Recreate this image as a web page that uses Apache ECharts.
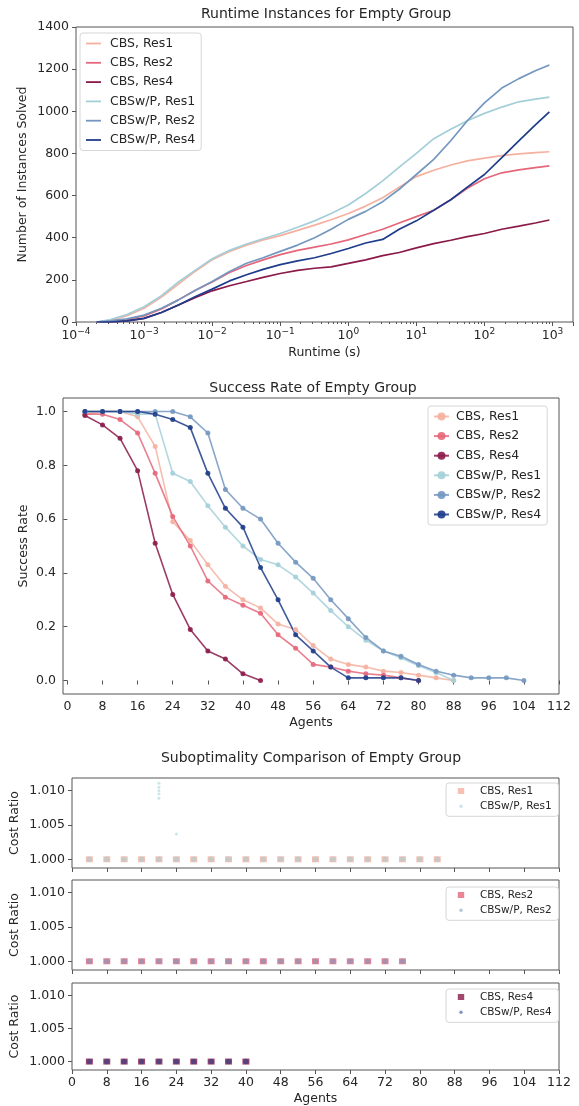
<!DOCTYPE html>
<html>
<head>
<meta charset="utf-8">
<script src="https://cdn.jsdelivr.net/npm/echarts@6/dist/echarts.min.js"></script>
<style>
html, body { margin: 0; padding: 0; background: #fff; }
#main { width: 579px; height: 1106px; }
</style>
</head>
<body>
<div id="main"></div>
<script>
var FONT = 'DejaVu Sans';
var INK = '#262626';
var FRAME = '#555555';

// the six methods, same order in every panel
var methodNames = ['CBS, Res1', 'CBS, Res2', 'CBS, Res4', 'CBSw/P, Res1', 'CBSw/P, Res2', 'CBSw/P, Res4'];
var methodColors = ['#f5b09f', '#e5677a', '#8b1a4a', '#a3cfd9', '#7497c0', '#1d3c8a'];

// ---- panel 1 : instances solved vs runtime ----
var runtimeSec = [2e-4, 3.2e-4, 5.6e-4, 1e-3, 1.8e-3, 3.2e-3, 5.6e-3, 1e-2, 1.8e-2, 3.2e-2, 5.6e-2, 0.1, 0.18, 0.32,
  0.56, 1, 1.8, 3.2, 5.6, 10, 18, 32, 56, 100, 180, 320, 560, 900];
var solvedCBS1 = [0, 8, 30, 65, 118, 180, 240, 295, 335, 365, 390, 410, 435, 460, 485, 515, 550, 590, 640, 690, 720, 745, 765, 778, 790, 798, 804, 808];
var solvedCBS2 = [0, 4, 12, 29, 62, 105, 150, 190, 235, 268, 295, 320, 340, 355, 370, 390, 415, 440, 470, 500, 530, 580, 635, 680, 708, 722, 733, 741];
var solvedCBS4 = [0, 0, 5, 17, 45, 81, 115, 148, 172, 192, 212, 230, 245, 255, 262, 278, 295, 315, 330, 352, 372, 388, 405, 420, 440, 455, 470, 484];
var solvedWP1 = [0, 12, 35, 72, 125, 190, 245, 300, 340, 370, 395, 420, 450, 480, 515, 555, 610, 670, 735, 800, 870, 915, 955, 990, 1020, 1045, 1058, 1067];
var solvedWP2 = [0, 5, 15, 33, 65, 105, 150, 192, 240, 279, 305, 335, 365, 400, 440, 487, 525, 571, 630, 700, 772, 860, 955, 1040, 1110, 1155, 1192, 1220];
var solvedWP4 = [0, 0, 5, 17, 45, 81, 120, 156, 195, 224, 250, 272, 290, 305, 325, 349, 375, 392, 440, 480, 530, 580, 640, 700, 780, 860, 935, 997];
var minorRuntimeTicks = [2e-4, 3e-4, 4e-4, 5e-4, 6e-4, 7e-4, 8e-4, 9e-4, 2e-3, 3e-3, 4e-3, 5e-3, 6e-3, 7e-3, 8e-3, 9e-3,
  0.02, 0.03, 0.04, 0.05, 0.06, 0.07, 0.08, 0.09, 0.2, 0.3, 0.4, 0.5, 0.6, 0.7, 0.8, 0.9,
  2, 3, 4, 5, 6, 7, 8, 9, 20, 30, 40, 50, 60, 70, 80, 90, 200, 300, 400, 500, 600, 700, 800, 900];

// ---- panel 2 : success rate vs agents ----
var agentCounts = [4, 8, 12, 16, 20, 24, 28, 32, 36, 40, 44, 48, 52, 56, 60, 64, 68, 72, 76, 80, 84, 88, 92, 96, 100, 104];
var rateCBS1 = [0.99, 1.0, 1.0, 0.98, 0.87, 0.59, 0.52, 0.43, 0.35, 0.30, 0.27, 0.21, 0.19, 0.13, 0.08, 0.06, 0.05, 0.035, 0.03, 0.02, 0.01, 0.0];
var rateCBS2 = [0.99, 0.99, 0.97, 0.92, 0.77, 0.61, 0.50, 0.37, 0.31, 0.28, 0.25, 0.17, 0.12, 0.06, 0.05, 0.035, 0.025, 0.02, 0.01, 0.0];
var rateCBS4 = [0.985, 0.95, 0.90, 0.78, 0.51, 0.32, 0.19, 0.11, 0.08, 0.025, 0.0];
var rateWP1 = [1.0, 1.0, 1.0, 0.99, 0.99, 0.77, 0.74, 0.65, 0.57, 0.50, 0.45, 0.43, 0.385, 0.325, 0.26, 0.20, 0.15, 0.11, 0.085, 0.055, 0.03, 0.0];
var rateWP2 = [1.0, 1.0, 1.0, 1.0, 1.0, 1.0, 0.98, 0.92, 0.71, 0.64, 0.60, 0.51, 0.44, 0.38, 0.30, 0.23, 0.16, 0.11, 0.09, 0.06, 0.035, 0.02, 0.01, 0.01, 0.01, 0.0];
var rateWP4 = [1.0, 1.0, 1.0, 1.0, 0.99, 0.97, 0.94, 0.77, 0.64, 0.57, 0.42, 0.30, 0.17, 0.11, 0.05, 0.01, 0.01, 0.01, 0.01, 0.0];
var agentTicks = [0, 8, 16, 24, 32, 40, 48, 56, 64, 72, 80, 88, 96, 104, 112];
var rateTicks = [0, 0.2, 0.4, 0.6, 0.8, 1.0];

// ---- panel 3 : cost ratio vs agents ----
var subAgentsRes1 = [4, 8, 12, 16, 20, 24, 28, 32, 36, 40, 44, 48, 52, 56, 60, 64, 68, 72, 76, 80, 84];
var ratioCBS1 = [1.000, 1.000, 1.000, 1.000, 1.000, 1.000, 1.000, 1.000, 1.000, 1.000, 1.000, 1.000, 1.000, 1.000, 1.000, 1.000, 1.000, 1.000, 1.000, 1.000, 1.000];
var ratioWP1 = [1.000, 1.000, 1.000, 1.000, 1.000, 1.000, 1.000, 1.000, 1.000, 1.000, 1.000, 1.000, 1.000, 1.000, 1.000, 1.000, 1.000, 1.000, 1.000, 1.000, 1.000];
var outlierAgentsWP1 = [20, 20, 20, 20, 20, 24];
var outlierRatioWP1 = [1.0089, 1.0095, 1.0100, 1.0105, 1.0111, 1.0037];
var subAgentsRes2 = [4, 8, 12, 16, 20, 24, 28, 32, 36, 40, 44, 48, 52, 56, 60, 64, 68, 72, 76];
var ratioCBS2 = [1.000, 1.000, 1.000, 1.000, 1.000, 1.000, 1.000, 1.000, 1.000, 1.000, 1.000, 1.000, 1.000, 1.000, 1.000, 1.000, 1.000, 1.000, 1.000];
var ratioWP2 = [1.000, 1.000, 1.000, 1.000, 1.000, 1.000, 1.000, 1.000, 1.000, 1.000, 1.000, 1.000, 1.000, 1.000, 1.000, 1.000, 1.000, 1.000, 1.000];
var subAgentsRes4 = [4, 8, 12, 16, 20, 24, 28, 32, 36, 40];
var ratioCBS4 = [1.000, 1.000, 1.000, 1.000, 1.000, 1.000, 1.000, 1.000, 1.000, 1.000];
var ratioWP4 = [1.000, 1.000, 1.000, 1.000, 1.000, 1.000, 1.000, 1.000, 1.000, 1.000];
var ratioTicks = [1.000, 1.005, 1.010];

function zip(xs, ys) {
  return ys.map(function (y, i) { return [xs[i], y]; });
}

function txt(size) {
  return { fontFamily: FONT, fontSize: size, color: INK };
}

// 10^n labels for the runtime axis
function powLabel(v) {
  var e = Math.log10(v);
  var n = Math.round(e);
  if (Math.abs(e - n) > 1e-6) return '';
  return '{b|10}{s|' + (n < 0 ? '\u2212' + (-n) : n) + '}';
}

var lineIcon = 'path://M0,0 M15,10 M0,4.1 L15,4.1 L15,5.9 L0,5.9 Z';
var squareIcon = 'path://M0,0 M10,10 M1.8,2 L8.2,2 L8.2,8 L1.8,8 Z';
var dotIcon = 'path://M0,0 M10,10 M3.3,5 A1.7,1.7 0 1,0 6.7,5 A1.7,1.7 0 1,0 3.3,5 Z';

var grids = [
  { left: 76, top: 27, width: 497, height: 295 },
  { left: 63, top: 398, width: 496, height: 296 },
  { left: 68, top: 778, width: 491, height: 90 },
  { left: 68, top: 880, width: 491, height: 90 },
  { left: 68, top: 983, width: 491, height: 89 }
].map(function (g) {
  g.show = true; g.borderColor = FRAME; g.borderWidth = 1; g.backgroundColor = 'transparent';
  return g;
});

var tickStyle = { show: true, length: 4, lineStyle: { color: FRAME, width: 1 } };

var xAxes = [
  {
    type: 'log', logBase: 10, gridIndex: 0, min: 1e-4, max: 2000, splitNumber: 7,
    axisLine: { show: false }, splitLine: { show: false }, axisTick: tickStyle,
    axisLabel: {
      margin: 5, formatter: powLabel, fontFamily: FONT, color: INK,
      rich: {
        b: { fontFamily: FONT, fontSize: 12.5, color: INK },
        s: { fontFamily: FONT, fontSize: 9, color: INK, padding: [0, 0, 8, 0] }
      }
    },
    name: 'Runtime (s)', nameLocation: 'middle', nameGap: 24, nameMoveOverlap: false, nameTextStyle: txt(12.5)
  },
  {
    type: 'log', logBase: 10, gridIndex: 0, min: 1e-4, max: 2000, position: 'bottom',
    axisLine: { show: false }, splitLine: { show: false }, axisLabel: { show: false },
    axisTick: { show: true, length: 2, customValues: minorRuntimeTicks, lineStyle: { color: FRAME, width: 1 } }
  },
  {
    type: 'value', gridIndex: 1, min: -1, max: 112,
    axisLine: { show: false }, splitLine: { show: false },
    axisTick: { show: true, length: 4, customValues: agentTicks, lineStyle: { color: FRAME } },
    axisLabel: Object.assign({ margin: 6, customValues: agentTicks }, txt(12.5)),
    name: 'Agents', nameLocation: 'middle', nameGap: 22, nameMoveOverlap: false, nameTextStyle: txt(12.5)
  }
];
[2, 3, 4].forEach(function (gi) {
  xAxes.push({
    type: 'value', gridIndex: gi, min: 0, max: 112, interval: 8,
    axisLine: { show: false }, splitLine: { show: false }, axisTick: tickStyle,
    axisLabel: Object.assign({ show: gi === 4, margin: 6 }, txt(12.5)),
    name: gi === 4 ? 'Agents' : '', nameLocation: 'middle', nameGap: 22, nameMoveOverlap: false, nameTextStyle: txt(12.5)
  });
});

var yAxes = [
  {
    type: 'value', gridIndex: 0, min: 0, max: 1400, interval: 200,
    axisLine: { show: false }, splitLine: { show: false }, axisTick: tickStyle,
    axisLabel: Object.assign({ margin: 7, formatter: function (v) { return String(v); } }, txt(12.5)),
    name: 'Number of Instances Solved', nameLocation: 'middle', nameRotate: 90, nameGap: 47,
    nameMoveOverlap: false, nameTextStyle: txt(12.5)
  },
  {
    type: 'value', gridIndex: 1, min: -0.05, max: 1.05,
    axisLine: { show: false }, splitLine: { show: false },
    axisTick: { show: true, length: 4, customValues: rateTicks, lineStyle: { color: FRAME } },
    axisLabel: Object.assign({ margin: 7, customValues: rateTicks, formatter: function (v) { return v.toFixed(1); } }, txt(12.5)),
    name: 'Success Rate', nameLocation: 'middle', nameRotate: 90, nameGap: 33,
    nameMoveOverlap: false, nameTextStyle: txt(12.5)
  }
];
[2, 3, 4].forEach(function (gi) {
  yAxes.push({
    type: 'value', gridIndex: gi, min: 0.99873, max: 1.01185,
    axisLine: { show: false }, splitLine: { show: false },
    axisTick: { show: true, length: 4, customValues: ratioTicks, lineStyle: { color: FRAME } },
    axisLabel: Object.assign({ margin: 7, customValues: ratioTicks, formatter: function (v) { return v.toFixed(3); } }, txt(12.5)),
    name: 'Cost Ratio', nameLocation: 'middle', nameRotate: 90, nameGap: 51,
    nameMoveOverlap: false, nameTextStyle: txt(12.5)
  });
});

var series = [];
var solvedLists = [solvedCBS1, solvedCBS2, solvedCBS4, solvedWP1, solvedWP2, solvedWP4];
solvedLists.forEach(function (list, k) {
  series.push({
    type: 'line', name: methodNames[k], xAxisIndex: 0, yAxisIndex: 0,
    data: zip(runtimeSec, list), symbol: 'none', silent: true,
    lineStyle: { color: methodColors[k], width: 1.7 }, itemStyle: { color: methodColors[k] }
  });
});
var rateLists = [rateCBS1, rateCBS2, rateCBS4, rateWP1, rateWP2, rateWP4];
rateLists.forEach(function (list, k) {
  series.push({
    type: 'line', name: methodNames[k] + '#sr', xAxisIndex: 2, yAxisIndex: 1,
    data: zip(agentCounts, list), symbol: 'circle', symbolSize: 5, silent: true,
    lineStyle: { color: methodColors[k], width: 1.6, opacity: 0.85 },
    itemStyle: { color: methodColors[k], opacity: 0.9 }
  });
});
var subPanels = [
  { cbs: zip(subAgentsRes1, ratioCBS1), wp: zip(subAgentsRes1, ratioWP1).concat(zip(outlierAgentsWP1, outlierRatioWP1)), c: 0, w: 3 },
  { cbs: zip(subAgentsRes2, ratioCBS2), wp: zip(subAgentsRes2, ratioWP2), c: 1, w: 4 },
  { cbs: zip(subAgentsRes4, ratioCBS4), wp: zip(subAgentsRes4, ratioWP4), c: 2, w: 5 }
];
subPanels.forEach(function (p, i) {
  series.push({
    type: 'scatter', name: methodNames[p.c] + '#sub', xAxisIndex: 3 + i, yAxisIndex: 2 + i,
    data: p.cbs, symbol: 'rect', symbolSize: [7, 6], silent: true,
    itemStyle: { color: methodColors[p.c], opacity: 0.8 }
  });
  series.push({
    type: 'scatter', name: methodNames[p.w] + '#sub', xAxisIndex: 3 + i, yAxisIndex: 2 + i,
    data: p.wp, symbol: 'circle', silent: true,
    // points off the 1.000 line are drawn small, as in the original
    symbolSize: function (v) { return v[1] > 1.0001 ? 3 : 5.5; },
    itemStyle: { color: methodColors[p.w], opacity: 0.55 }
  });
});

var legendBox = {
  backgroundColor: 'rgba(255,255,255,0.8)', borderColor: '#d6d6d6', borderWidth: 1, borderRadius: 3
};
var legends = [
  Object.assign({
    left: 80, top: 33, orient: 'vertical', padding: [3, 6, 3, 6], itemWidth: 15, itemHeight: 10, itemGap: 4.3,
    data: methodNames.map(function (n) { return { name: n, icon: lineIcon }; }), selectedMode: false,
    textStyle: { fontFamily: FONT, fontSize: 12.5, color: INK, lineHeight: 15, padding: [0, 0, 0, 4] }
  }, legendBox),
  Object.assign({
    left: 428, top: 406, orient: 'vertical', padding: [3, 6, 3, 5], itemWidth: 15, itemHeight: 10, itemGap: 4.6,
    data: methodNames.map(function (n) { return n + '#sr'; }), selectedMode: false,
    formatter: function (n) { return n.split('#')[0]; },
    textStyle: { fontFamily: FONT, fontSize: 12.5, color: INK, lineHeight: 15, padding: [0, 0, 0, 2] }
  }, legendBox)
];
[[0, 3, 783], [1, 4, 887], [2, 5, 989]].forEach(function (t) {
  legends.push(Object.assign({
    left: 446, top: t[2], orient: 'vertical', padding: [2, 7, 4, 10], itemWidth: 10, itemHeight: 10, itemGap: 3.3,
    data: [
      { name: methodNames[t[0]] + '#sub', icon: squareIcon },
      { name: methodNames[t[1]] + '#sub', icon: dotIcon }
    ],
    selectedMode: false,
    formatter: function (n) { return n.split('#')[0]; },
    textStyle: { fontFamily: FONT, fontSize: 10.5, color: INK, lineHeight: 12, padding: [0, 0, 0, 9] }
  }, legendBox));
});

var titles = [
  ['Runtime Instances for Empty Group', 326, 14],
  ['Success Rate of Empty Group', 313, 388],
  ['Suboptimality Comparison of Empty Group', 311, 758]
].map(function (t) {
  return {
    type: 'text', x: t[1], y: t[2], silent: true,
    style: { text: t[0], align: 'center', verticalAlign: 'middle', fontFamily: FONT, fontSize: 14, fill: INK }
  };
});

var myChart = echarts.init(document.getElementById('main'), null, { renderer: 'canvas' });
myChart.setOption({
  backgroundColor: '#ffffff',
  animation: false,
  textStyle: { fontFamily: FONT },
  grid: grids,
  xAxis: xAxes,
  yAxis: yAxes,
  legend: legends,
  graphic: titles,
  series: series
});
</script>
</body>
</html>
